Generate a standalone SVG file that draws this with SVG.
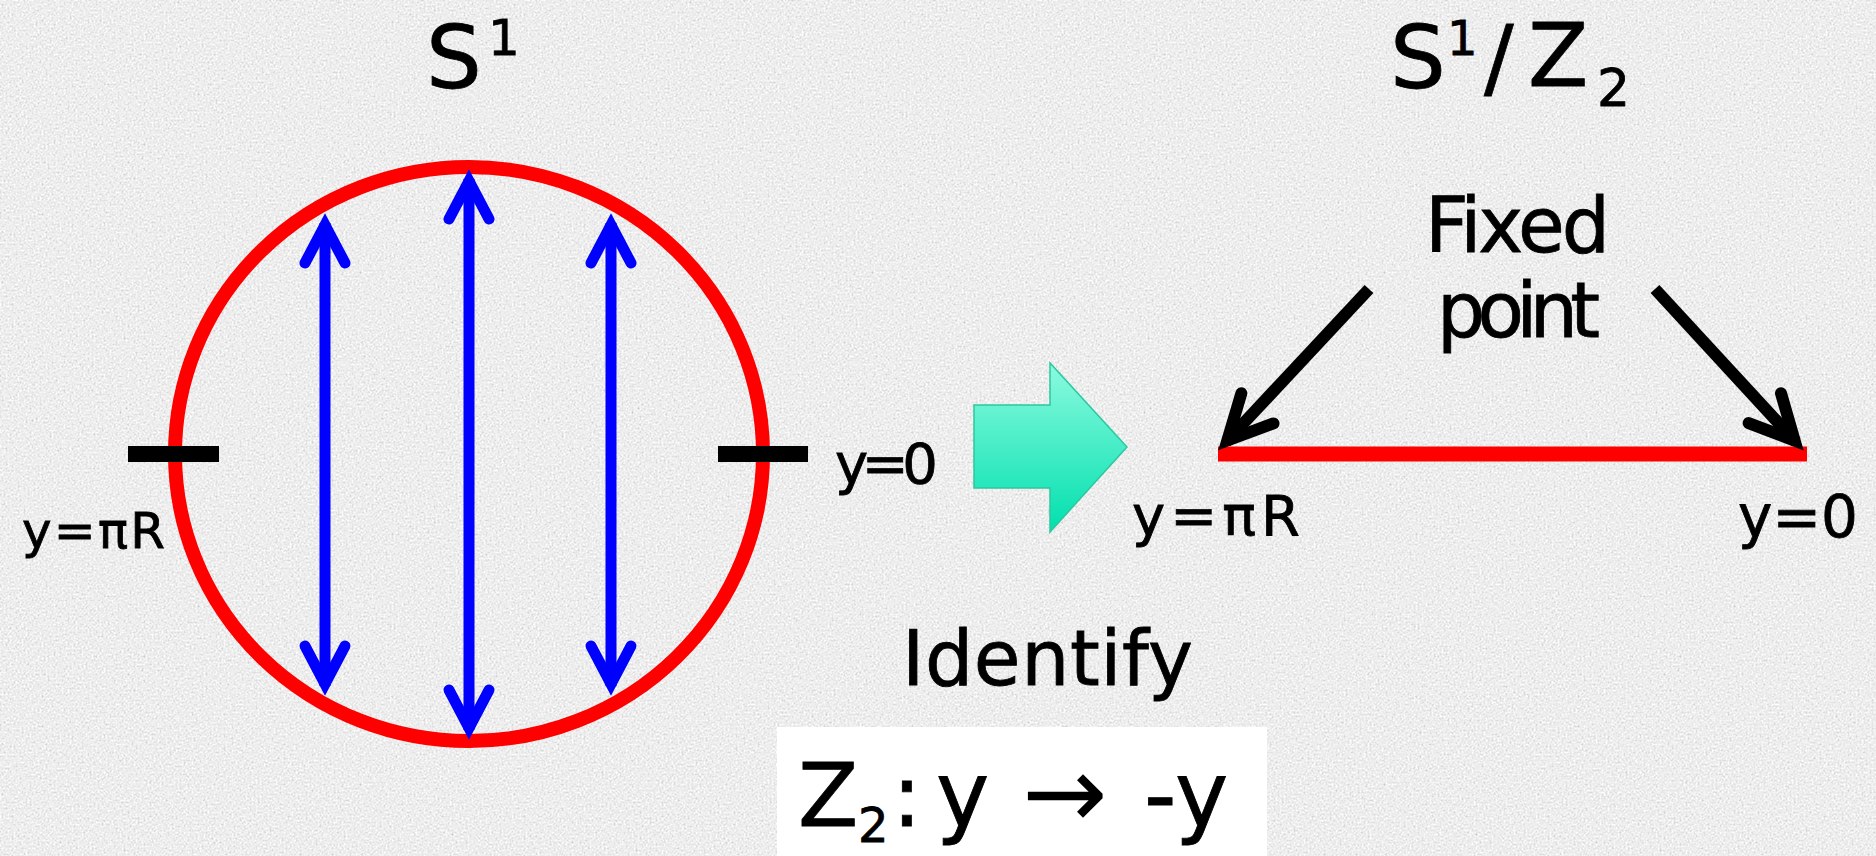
<svg xmlns="http://www.w3.org/2000/svg" width="1876" height="856" viewBox="0 0 1876 856">
  <style>
    .t { font-family: "Comic Sans MS", "DejaVu Sans", sans-serif; fill: #000; stroke: #000; stroke-width: 0.8; }
    .blue { stroke: #0000ff; stroke-width: 11; fill: none; }
    .black { stroke: #000; stroke-width: 12; fill: none; }
  </style>
  <defs>
    <filter id="grain" x="0" y="0" width="100%" height="100%" filterUnits="userSpaceOnUse">
      <feTurbulence type="fractalNoise" baseFrequency="0.5" numOctaves="3" seed="7"/>
      <feColorMatrix type="matrix" values="0.33 0.33 0.33 0 0  0.33 0.33 0.33 0 0  0.33 0.33 0.33 0 0  0 0 0 0 1"/>
      <feComponentTransfer>
        <feFuncR type="linear" slope="0.95" intercept="0.38"/>
        <feFuncG type="linear" slope="0.95" intercept="0.38"/>
        <feFuncB type="linear" slope="0.95" intercept="0.38"/>
        <feFuncA type="linear" slope="0" intercept="1"/>
      </feComponentTransfer>
    </filter>
    <linearGradient id="cyan" x1="0" y1="0" x2="0" y2="1">
      <stop offset="0" stop-color="#8cfadf"/>
      <stop offset="1" stop-color="#00e0ae"/>
    </linearGradient>
    <marker id="chevBlue" markerUnits="userSpaceOnUse" viewBox="-60 -30 80 60" refX="0" refY="0" markerWidth="80" markerHeight="60" orient="auto-start-reverse" overflow="visible">
      <path d="M-40,-20 L-2,0 L-40,20" fill="none" stroke="#0000ff" stroke-width="11" stroke-linecap="round" stroke-linejoin="miter"/>
    </marker>
    <marker id="chevBlack" markerUnits="userSpaceOnUse" viewBox="-60 -30 80 60" refX="0" refY="0" markerWidth="80" markerHeight="60" orient="auto" overflow="visible">
      <path d="M-46,-22 L-2,0 L-46,22" fill="none" stroke="#000" stroke-width="12" stroke-linecap="round" stroke-linejoin="miter"/>
    </marker>
  </defs>

  <rect width="1876" height="856" fill="#d8d8d8"/>
  <rect width="1876" height="856" filter="url(#grain)"/>

  <g id="circle-s1">
    <ellipse cx="469" cy="454" rx="294" ry="287" fill="none" stroke="#ff0000" stroke-width="14"/>
    <rect x="128" y="446" width="91" height="16" fill="#000"/>
    <rect x="718" y="446" width="90" height="16" fill="#000"/>
  </g>

  <g id="title-s1">
    <text class="t" x="426" y="88" font-size="88">S</text>
    <text class="t" x="488" y="55" font-size="50">1</text>
  </g>

  <g id="title-s1z2">
    <text class="t" y="88" font-size="88"><tspan x="1390">S</tspan><tspan x="1447" y="55" font-size="48">1</tspan><tspan x="1484" y="88">/</tspan><tspan x="1528" y="86">Z</tspan><tspan x="1597" y="106" font-size="52">2</tspan></text>
  </g>

  <g id="label-left-piR">
    <text class="t" x="22" y="548" font-size="50" textLength="143">y=πR</text>
  </g>
  <g id="label-left-0">
    <text class="t" x="835" y="483" font-size="56" textLength="103">y=0</text>
  </g>

  <g id="big-arrow">
    <polygon points="974,405 1050,405 1050,363 1127,447 1050,532 1050,488 974,488" fill="url(#cyan)" stroke="#2cc89e" stroke-width="1.5"/>
  </g>

  <g id="segment">
    <line x1="1218" y1="454" x2="1807" y2="454" stroke="#ff0000" stroke-width="15"/>
  </g>

  <g id="label-fixed-point">
    <text class="t" x="1425" y="252" font-size="76" textLength="185">Fixed</text>
    <text class="t" x="1437" y="337" font-size="76" textLength="163">point</text>
  </g>

  <g id="label-right-piR">
    <text class="t" x="1132" y="535" font-size="56" textLength="168">y=πR</text>
  </g>
  <g id="label-right-0">
    <text class="t" x="1738" y="537" font-size="58" textLength="120">y=0</text>
  </g>

  <g id="label-identify">
    <text class="t" x="902" y="685" font-size="76" textLength="291">Identify</text>
  </g>

  <g id="z2-box">
    <rect x="777" y="727" width="490" height="129" fill="#ffffff"/>
    <text class="t" y="826" font-size="88"><tspan x="798">Z</tspan><tspan x="858" y="842" font-size="48">2</tspan><tspan x="892" y="826">:</tspan><tspan x="936" font-size="90">y</tspan><tspan x="1022" y="828" font-size="102" stroke-width="0">→</tspan><tspan x="1144" y="826" font-size="90">-y</tspan></text>
  </g>

  <g id="connectors">
    <line class="blue" x1="325" y1="223" x2="325" y2="686" marker-start="url(#chevBlue)" marker-end="url(#chevBlue)"/>
    <line class="blue" x1="469" y1="179" x2="469" y2="730" marker-start="url(#chevBlue)" marker-end="url(#chevBlue)"/>
    <line class="blue" x1="611" y1="223" x2="611" y2="686" marker-start="url(#chevBlue)" marker-end="url(#chevBlue)"/>
    <line class="black" x1="1369" y1="289" x2="1226" y2="442" marker-end="url(#chevBlack)"/>
    <line class="black" x1="1655" y1="289" x2="1796" y2="442" marker-end="url(#chevBlack)"/>
  </g>
</svg>
